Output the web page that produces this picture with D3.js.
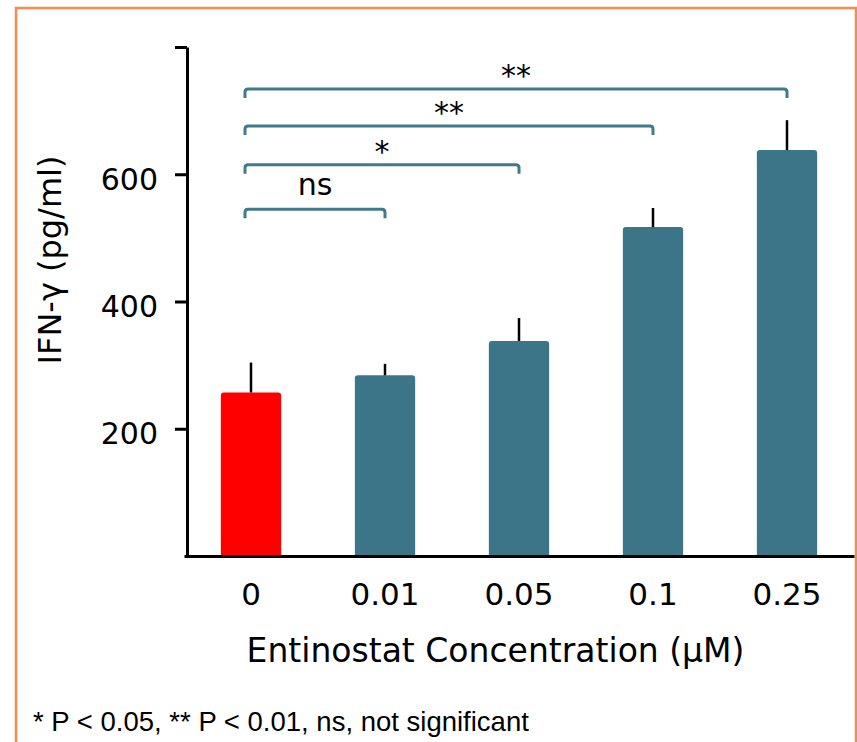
<!DOCTYPE html>
<html>
<head>
<meta charset="utf-8">
<script src="https://cdn.jsdelivr.net/npm/d3@7"></script>
<style>
  body { margin: 0; background: #fff; }
  svg { display: block; }
</style>
</head>
<body>
<script>
// chart values
var categories = ["0", "0.01", "0.05", "0.1", "0.25"];
var means = [257, 284, 338, 517, 638];
var errors = [47, 18, 36, 30, 47];
var yTicks = [200, 400, 600, 800];

// significance brackets, all against the 0 control
var compareTo = ["0.01", "0.05", "0.1", "0.25"];
var compareLabels = ["ns", "*", "**", "**"];
var bracketLevels = [545, 615, 676, 734];

var footnote = "* P < 0.05, ** P < 0.01, ns, not significant";

var w = 857, h = 742;
var teal = "#3d7588";
var bracketColor = "#407a8c";

var svg = d3.select("body")
    .append("svg")
    .attr("width", w)
    .attr("height", h);

// orange frame (runs off the bottom)
svg.append("rect")
    .attr("x", 16).attr("y", 8)
    .attr("width", 840).attr("height", 800)
    .attr("fill", "none")
    .attr("stroke", "#f68b4d")
    .attr("stroke-width", 2.5);

var x = d3.scaleBand()
    .domain(categories)
    .range([184, 854])
    .paddingInner(0.55)
    .paddingOuter(0.275);

var y = d3.scaleLinear()
    .domain([0, 800])
    .range([556, 47]);

var rows = categories.map(function (c, i) {
    return { cat: c, mean: means[i], err: errors[i], i: i };
});

//bars with rounded top corners
function barPath(d) {
    var x0 = x(d.cat), x1 = x0 + x.bandwidth(), y0 = y(0), yt = y(d.mean), r = 3;
    return "M" + x0 + "," + y0 + "V" + (yt + r) + "Q" + x0 + "," + yt + "," + (x0 + r) + "," + yt +
        "H" + (x1 - r) + "Q" + x1 + "," + yt + "," + x1 + "," + (yt + r) + "V" + y0 + "Z";
}

svg.append("g").selectAll("path")
    .data(rows)
    .enter()
    .append("path")
    .attr("d", barPath)
    .attr("fill", function (d) { return d.i === 0 ? "#ff0000" : teal; });

// upper error bars
svg.append("g").selectAll("line")
    .data(rows)
    .enter()
    .append("line")
    .attr("x1", function (d) { return x(d.cat) + x.bandwidth() / 2; })
    .attr("x2", function (d) { return x(d.cat) + x.bandwidth() / 2; })
    .attr("y1", function (d) { return y(d.mean); })
    .attr("y2", function (d) { return y(d.mean + d.err); })
    .attr("stroke", "#000")
    .attr("stroke-width", 2.5);

// y axis
var yAxis = svg.append("g")
    .attr("transform", "translate(187,0)")
    .call(d3.axisLeft(y)
        .tickValues(yTicks)
        .tickSize(12)
        .tickSizeOuter(0)
        .tickPadding(17)
        .tickFormat(function (d) { return d === 800 ? "" : d; }));

yAxis.selectAll("path, line").attr("stroke", "#000").attr("stroke-width", 3);
yAxis.selectAll("text")
    .attr("font-family", "DejaVu Sans")
    .attr("font-size", 30)
    .attr("fill", "#000")
    .attr("dy", "0.5em");

// x axis
var xAxis = svg.append("g")
    .attr("transform", "translate(0," + y(0) + ")")
    .call(d3.axisBottom(x).tickSize(0).tickSizeOuter(0).tickPadding(27));

xAxis.select(".domain").attr("stroke", "#000").attr("stroke-width", 3);
xAxis.selectAll("text")
    .attr("font-family", "DejaVu Sans")
    .attr("font-size", 31)
    .attr("fill", "#000");

// brackets
var brackets = compareTo.map(function (c, i) {
    return { to: c, label: compareLabels[i], level: bracketLevels[i] };
});

function bracketPath(d) {
    var xl = x(categories[0]) + x.bandwidth() / 2 - 6;
    var xr = x(d.to) + x.bandwidth() / 2;
    var yy = y(d.level), r = 3, leg = 9;
    return "M" + xl + "," + (yy + leg) + "V" + (yy + r) + "Q" + xl + "," + yy + "," + (xl + r) + "," + yy +
        "H" + (xr - r) + "Q" + xr + "," + yy + "," + xr + "," + (yy + r) + "V" + (yy + leg);
}

var bg = svg.append("g").selectAll("g")
    .data(brackets)
    .enter()
    .append("g");

bg.append("path")
    .attr("d", bracketPath)
    .attr("fill", "none")
    .attr("stroke", bracketColor)
    .attr("stroke-width", 3);

bg.append("text")
    .attr("x", function (d) {
        return (x(categories[0]) + x.bandwidth() / 2 - 6 + x(d.to) + x.bandwidth() / 2) / 2;
    })
    .attr("y", function (d) { return y(d.level) + (d.label === "ns" ? -14 : -3); })
    .attr("text-anchor", "middle")
    .attr("font-family", "DejaVu Sans")
    .attr("font-size", 30)
    .attr("fill", "#000")
    .text(function (d) { return d.label; });

// axis titles
svg.append("text")
    .attr("transform", "translate(61,260) rotate(-90)")
    .attr("text-anchor", "middle")
    .attr("font-family", "DejaVu Sans")
    .attr("font-size", 32)
    .attr("fill", "#000")
    .text("IFN-γ (pg/ml)");

svg.append("text")
    .attr("x", 495.5)
    .attr("y", 662)
    .attr("text-anchor", "middle")
    .attr("font-family", "DejaVu Sans")
    .attr("font-size", 33)
    .attr("fill", "#000")
    .text("Entinostat Concentration (µM)");

svg.append("text")
    .attr("x", 33)
    .attr("y", 731)
    .attr("font-family", "Liberation Sans")
    .attr("font-size", 27.5)
    .attr("fill", "#000")
    .text(footnote);
</script>
</body>
</html>
